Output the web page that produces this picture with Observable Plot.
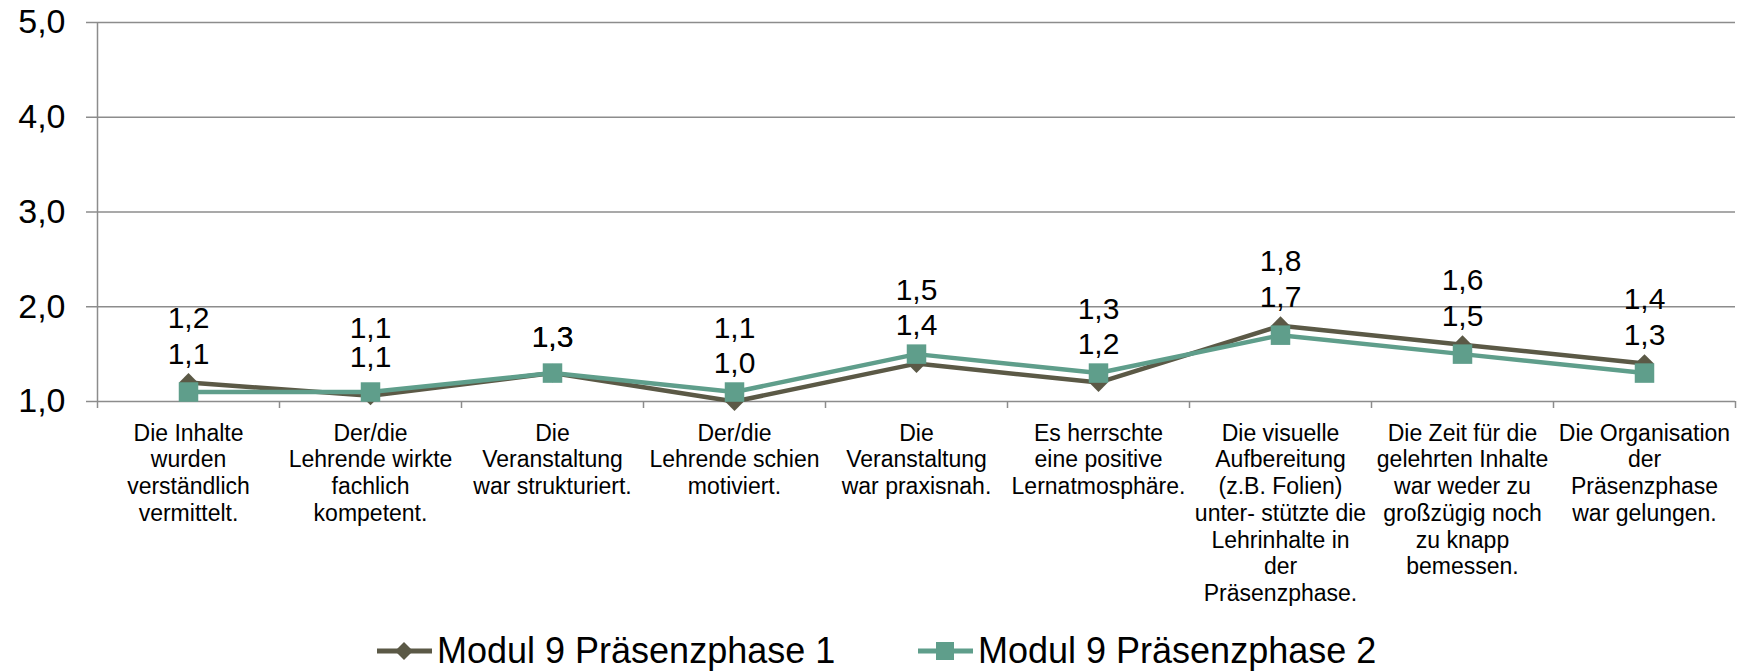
<!DOCTYPE html>
<html>
<head>
<meta charset="utf-8">
<script src="https://cdn.jsdelivr.net/npm/d3@7"></script>
<script src="https://cdn.jsdelivr.net/npm/@observablehq/plot@0.6"></script>
<style>
  html, body { margin: 0; padding: 0; background: #fff; }
  body { width: 1752px; height: 671px; overflow: hidden; font-family: "Liberation Sans", Arial, sans-serif; }
  #legend { position: relative; width: 1752px; height: 40px; }
  .item { position: absolute; top: 0; height: 40px; display: flex; align-items: center; font-size: 36px; color: #000; white-space: nowrap; }
  .item svg { margin-right: 5px; }
</style>
</head>
<body>
<div id="chart"></div>
<div id="legend"></div>
<script>
const categories = [
  "Die Inhalte\nwurden\nverständlich\nvermittelt.",
  "Der/die\nLehrende wirkte\nfachlich\nkompetent.",
  "Die\nVeranstaltung\nwar strukturiert.",
  "Der/die\nLehrende schien\nmotiviert.",
  "Die\nVeranstaltung\nwar praxisnah.",
  "Es herrschte\neine positive\nLernatmosphäre.",
  "Die visuelle\nAufbereitung\n(z.B. Folien)\nunter- stützte die\nLehrinhalte in\nder\nPräsenzphase.",
  "Die Zeit für die\ngelehrten Inhalte\nwar weder zu\ngroßzügig noch\nzu knapp\nbemessen.",
  "Die Organisation\nder\nPräsenzphase\nwar gelungen."
];
const seriesNames = ["Modul 9 Präsenzphase 1", "Modul 9 Präsenzphase 2"];
const series1 = [1.2, 1.06, 1.3, 1.0, 1.4, 1.2, 1.8, 1.6, 1.4];
const series2 = [1.1, 1.1, 1.3, 1.1, 1.5, 1.3, 1.7, 1.5, 1.3];
const yTicks = [1, 2, 3, 4, 5];

const colors = ["#5b5946", "#5f9e8b"];
const gridColor = "#8c8c8c";
const fmt = v => d3.format(".1f")(v).replace(".", ",");

const rows = [];
categories.forEach((c, i) => {
  const a = series1[i], b = series2[i];
  rows.push({i, series: 0, value: a, role: a === b ? "equal" : (a > b ? "upper" : "lower")});
  rows.push({i, series: 1, value: b, role: a === b ? "equal" : (b > a ? "upper" : "lower")});
});
const s1 = rows.filter(d => d.series === 0);
const s2 = rows.filter(d => d.series === 1);
const boundaries = d3.range(-0.5, categories.length, 1);

const labelStyle = {x: "i", y: "value", text: d => fmt(d.value), fontSize: 30, fill: "#000"};

const chart = Plot.plot({
  width: 1752,
  height: 631,
  marginLeft: 97,
  marginRight: 17,
  marginTop: 22,
  marginBottom: 230,
  style: {fontFamily: "'Liberation Sans', Arial, sans-serif", background: "#fff", overflow: "visible"},
  x: {domain: [-0.5, categories.length - 0.5], label: null},
  y: {domain: [1, 5], label: null},
  marks: [
    Plot.ruleY(yTicks, {stroke: gridColor, strokeWidth: 1.5}),
    Plot.ruleX([-0.5], {y1: () => 1, y2: () => 5, stroke: gridColor, strokeWidth: 1.5}),
    Plot.axisY({ticks: yTicks, tickFormat: fmt, label: null, tickSize: 11, tickPadding: 21, fontSize: 34, stroke: gridColor, strokeWidth: 1.5, fill: "#000"}),
    Plot.axisX({ticks: boundaries, tickFormat: () => "", label: null, tickSize: 7, stroke: gridColor, strokeWidth: 1.5}),
    Plot.text(categories, {x: (d, i) => i, y: () => 1, text: d => d, dy: 20, lineAnchor: "top", lineHeight: 1.165, fontSize: 23, fill: "#000", textAnchor: "middle"}),
    Plot.line(s1, {x: "i", y: "value", stroke: colors[0], strokeWidth: 4.5}),
    Plot.dot(s1, {x: "i", y: "value", symbol: "diamond2", r: 8.5, fill: colors[0]}),
    Plot.line(s2, {x: "i", y: "value", stroke: colors[1], strokeWidth: 4.5}),
    Plot.dot(s2, {x: "i", y: "value", symbol: "square", r: 11, fill: colors[1]}),
    Plot.text(rows.filter(d => d.role === "upper"), {...labelStyle, dy: -64}),
    Plot.text(rows.filter(d => d.role === "lower"), {...labelStyle, dy: -38}),
    Plot.text(rows.filter(d => d.role === "equal"), {...labelStyle, dy: -36})
  ]
});
document.getElementById("chart").appendChild(chart);

// Legend
const legend = document.getElementById("legend");
const legendLeft = [377, 918];
seriesNames.forEach((name, k) => {
  const item = document.createElement("div");
  item.className = "item";
  item.style.left = legendLeft[k] + "px";
  const sym = k === 0
    ? `<path d="M27,-9 L36,0 L27,9 L18,0 Z" fill="${colors[0]}"/>`
    : `<rect x="18" y="-9" width="18" height="18" fill="${colors[1]}"/>`;
  item.innerHTML = `<svg width="55" height="24" viewBox="0 -12 55 24"><line x1="0" y1="0" x2="55" y2="0" stroke="${colors[k]}" stroke-width="5"/>${sym}</svg><span>${name}</span>`;
  legend.appendChild(item);
});
</script>
</body>
</html>
